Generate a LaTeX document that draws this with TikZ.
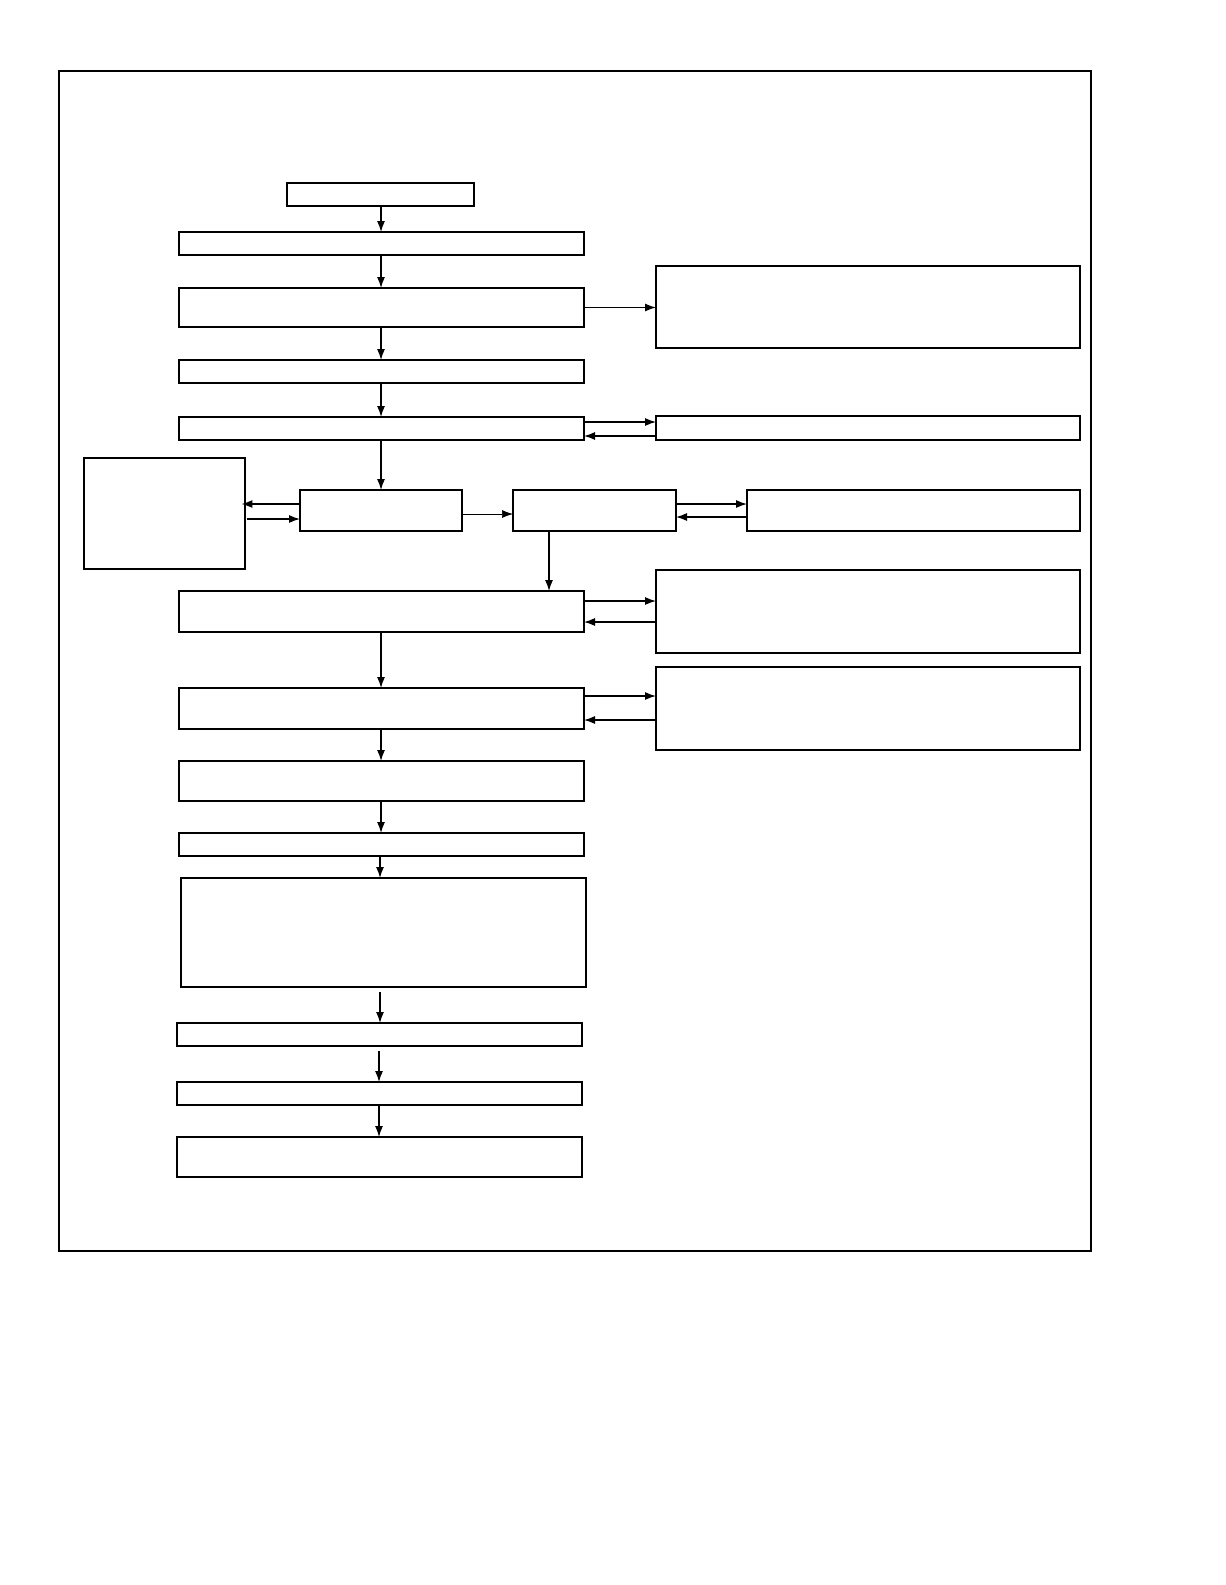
\documentclass[tikz,border=0pt]{standalone}
\usetikzlibrary{positioning,arrows.meta}
% box from pixel corners
\newcommand{\pbox}[5]{%
  \node[blank, minimum width={(#4-#2)*0.02cm}, minimum height={(#5-#3)*0.02cm}]
    (#1) at ({(#2+#4)/2},{(#3+#5)/2}) {};}
\begin{document}
\begin{tikzpicture}[%
    x=0.02cm, y=-0.02cm,
    >={Latex[length=2.2mm,width=1.6mm]},
    blank/.style={draw, line width=0.7pt, inner sep=0pt, outer sep=0pt},
    link/.style={->, line width=0.7pt}
  ]
    \useasboundingbox (0,0) rectangle (1225,1585);
    \draw[line width=0.7pt] (59,71) rectangle (1091,1251);

    \pbox{start}{287}{183}{474}{206}
    \pbox{s1}{179}{232}{584}{255}
    \pbox{s2}{179}{288}{584}{327}
    \pbox{n2}{656}{266}{1080}{348}
    \pbox{s3}{179}{360}{584}{383}
    \pbox{s4}{179}{417}{584}{440}
    \pbox{n4}{656}{416}{1080}{440}
    \pbox{side}{84}{458}{245}{569}
    \pbox{midA}{300}{490}{462}{531}
    \pbox{midB}{513}{490}{676}{531}
    \pbox{n5}{747}{490}{1080}{531}
    \pbox{s5}{179}{591}{584}{632}
    \pbox{n6}{656}{570}{1080}{653}
    \pbox{s6}{179}{688}{584}{729}
    \pbox{n7}{656}{667}{1080}{750}
    \pbox{s7}{179}{761}{584}{801}
    \pbox{s8}{179}{833}{584}{856}
    \pbox{s9}{181}{878}{586}{987}
    \pbox{s10}{177}{1023}{582}{1046}
    \pbox{s11}{177}{1082}{582}{1105}
    \pbox{s12}{177}{1137}{582}{1177}

    % main column
    \draw[link] (start.south -| 381,0) -- (s1.north -| 381,0);
    \draw[link] (s1.south -| 381,0) -- (s2.north -| 381,0);
    \draw[link] (s2.south -| 381,0) -- (s3.north -| 381,0);
    \draw[link] (s3.south -| 381,0) -- (s4.north -| 381,0);
    \draw[link] (s4.south -| 381,0) -- (midA.north -| 381,0);
    \draw[link] (midB.south -| 549,0) -- (s5.north -| 549,0);
    \draw[link] (s5.south -| 381,0) -- (s6.north -| 381,0);
    \draw[link] (s6.south -| 381,0) -- (s7.north -| 381,0);
    \draw[link] (s7.south -| 381,0) -- (s8.north -| 381,0);
    \draw[link] (s8.south -| 380,0) -- (s9.north -| 380,0);
    \draw[link] ([yshift=-3pt]s9.south -| 380,0) -- (s10.north -| 380,0);
    \draw[link] ([yshift=-3pt]s10.south -| 379,0) -- (s11.north -| 379,0);
    \draw[link] (s11.south -| 379,0) -- (s12.north -| 379,0);

    % side links
    \draw[link] (s2.east) -- (n2.west |- s2.east);
    \draw[link] (s4.east |- 0,422) -- (n4.west |- 0,422);
    \draw[link] (n4.west |- 0,436) -- (s4.east |- 0,436);
    \draw[link] (midA.west |- 0,504) -- ([xshift=-2pt]side.east |- 0,504);
    \draw[link] ([xshift=1pt]side.east |- 0,519) -- (midA.west |- 0,519);
    \draw[link, line width=0.4pt] (midA.east |- 0,514) -- (midB.west |- 0,514);
    \draw[link] (midB.east |- 0,504) -- (n5.west |- 0,504);
    \draw[link] (n5.west |- 0,517) -- (midB.east |- 0,517);
    \draw[link] (s5.east |- 0,601) -- (n6.west |- 0,601);
    \draw[link] (n6.west |- 0,622) -- (s5.east |- 0,622);
    \draw[link] (s6.east |- 0,696) -- (n7.west |- 0,696);
    \draw[link] (n7.west |- 0,720) -- (s6.east |- 0,720);
\end{tikzpicture}
\end{document}
